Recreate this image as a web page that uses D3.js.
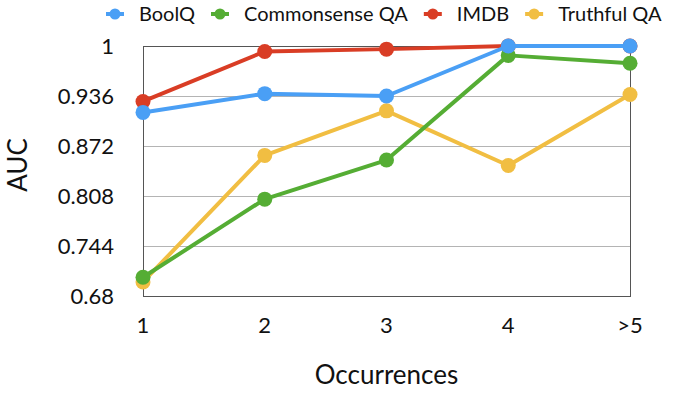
<!DOCTYPE html>
<html>
<head>
<meta charset="utf-8">
<script src="https://cdn.jsdelivr.net/npm/d3@7"></script>
<style>
  html, body { margin: 0; padding: 0; background: #fff; }
  svg text { font-family: Lato, "Open Sans", sans-serif; fill: #111; }
</style>
</head>
<body>
<div id="chart"></div>
<script>
const categories = ['1', '2', '3', '4', '>5'];
const yTicks = [0.68, 0.744, 0.808, 0.872, 0.936, 1];
const seriesNames = ['BoolQ', 'Commonsense QA', 'IMDB', 'Truthful QA'];
const seriesColors = ['#4a9ff5', '#55ad34', '#d93d25', '#f1be42'];
const boolq = [0.915, 0.939, 0.936, 1.0, 1.0];
const commonsense = [0.704, 0.804, 0.854, 0.988, 0.978];
const imdb = [0.929, 0.993, 0.996, 1.0, 1.0];
const truthful = [0.698, 0.86, 0.917, 0.847, 0.938];

const W = 682, H = 394;
const margin = { top: 46, right: 52, bottom: 98, left: 143 };

const svg = d3.select('#chart').append('svg')
  .attr('width', W).attr('height', H);

const x = d3.scalePoint()
  .domain(categories)
  .range([margin.left, W - margin.right]);

const y = d3.scaleLinear()
  .domain([0.68, 1])
  .range([H - margin.bottom, margin.top]);

/* ---------- grid + frame ---------- */
svg.append('g')
  .selectAll('line')
  .data(yTicks.slice(1, -1))
  .join('line')
  .attr('x1', margin.left).attr('x2', W - margin.right)
  .attr('y1', d => y(d)).attr('y2', d => y(d))
  .attr('stroke', '#b4b4b4').attr('stroke-width', 1)
  .attr('shape-rendering', 'crispEdges');

svg.append('rect')
  .attr('x', margin.left).attr('y', margin.top)
  .attr('width', W - margin.left - margin.right)
  .attr('height', H - margin.top - margin.bottom)
  .attr('fill', 'none').attr('stroke', '#555').attr('stroke-width', 1)
  .attr('shape-rendering', 'crispEdges');

/* ---------- axes labels ---------- */
svg.append('g')
  .selectAll('text')
  .data(yTicks)
  .join('text')
  .attr('x', 114).attr('y', d => y(d))
  .attr('dy', '0.35em')
  .attr('text-anchor', 'end')
  .attr('font-size', 22)
  .text(d => d3.format('')(d));

svg.append('g')
  .selectAll('text')
  .data(categories)
  .join('text')
  .attr('x', d => x(d)).attr('y', 325)
  .attr('dy', '0.35em')
  .attr('text-anchor', 'middle')
  .attr('font-size', 22)
  .text(d => d);

svg.append('text')
  .attr('x', (margin.left + W - margin.right) / 2).attr('y', 375)
  .attr('dy', '0.35em')
  .attr('text-anchor', 'middle')
  .attr('font-size', 26)
  .text('Occurrences');

svg.append('text')
  .attr('transform', 'translate(18,165) rotate(-90)')
  .attr('dy', '0.35em')
  .attr('text-anchor', 'middle')
  .attr('font-size', 26)
  .text('AUC');

/* ---------- series ---------- */
const allSeries = [boolq, commonsense, imdb, truthful].map((vals, i) => ({
  name: seriesNames[i],
  color: seriesColors[i],
  values: vals,
}));

const line = d3.line()
  .x((d, i) => x(categories[i]))
  .y(d => y(d));

// later legend entries sit underneath (blue ends up on top)
const drawOrder = [3, 2, 1, 0];
drawOrder.forEach(i => {
  const s = allSeries[i];
  const g = svg.append('g');
  g.append('path')
    .datum(s.values)
    .attr('d', line)
    .attr('fill', 'none')
    .attr('stroke', s.color)
    .attr('stroke-width', 4)
    .attr('stroke-linejoin', 'round');
  g.selectAll('circle')
    .data(s.values)
    .join('circle')
    .attr('cx', (d, j) => x(categories[j]))
    .attr('cy', d => y(d))
    .attr('r', 7.5)
    .attr('fill', s.color);
});

/* ---------- legend ---------- */
const legend = svg.append('g');
let lx = 106;
allSeries.forEach(s => {
  const item = legend.append('g').attr('transform', `translate(${lx},14)`);
  item.append('line')
    .attr('x1', 0).attr('x2', 18)
    .attr('stroke', s.color).attr('stroke-width', 4);
  item.append('circle').attr('cx', 9).attr('r', 5.5).attr('fill', s.color);
  const t = item.append('text')
    .attr('x', 33).attr('dy', '0.35em')
    .attr('font-size', 20)
    .text(s.name);
  lx += 33 + t.node().getComputedTextLength() + 16;
});
</script>
</body>
</html>
